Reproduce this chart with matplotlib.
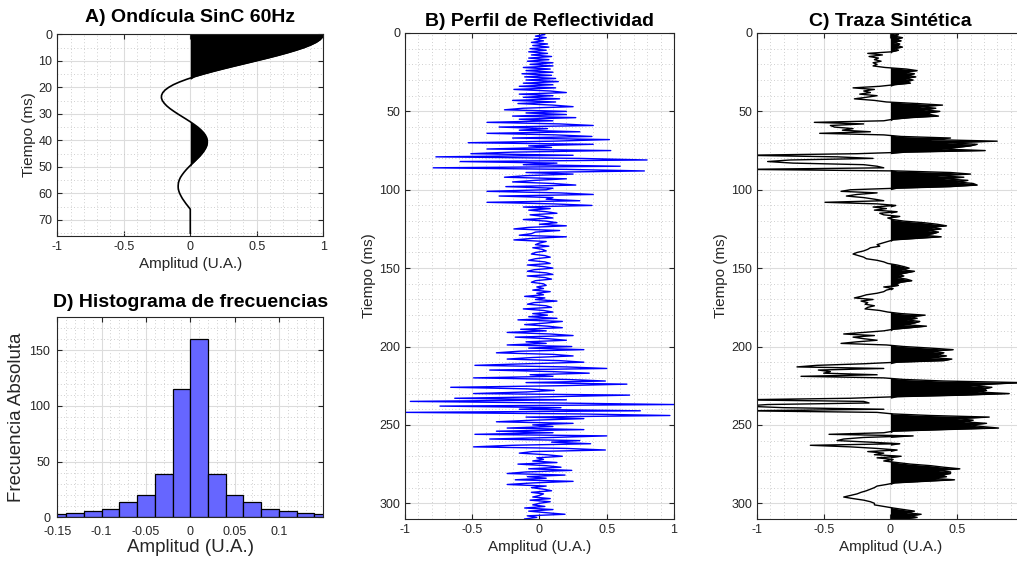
import numpy as np
import matplotlib
matplotlib.use('Agg')
import matplotlib.pyplot as plt
from matplotlib.ticker import MultipleLocator

plt.rcParams['font.family'] = ['Liberation Sans', 'DejaVu Sans']

# ondícula sinc (1 ms)
wavelet = [
    1.000, 0.994, 0.976, 0.947, 0.906, 0.856, 0.796, 0.729, 0.656, 0.578,
    0.496, 0.414, 0.331, 0.250, 0.172, 0.099, 0.031, -0.029, -0.082, -0.127,
    -0.162, -0.189, -0.207, -0.216, -0.217, -0.210, -0.196, -0.177, -0.153, -0.125,
    -0.095, -0.063, -0.031, 0.000, 0.029, 0.056, 0.079, 0.098, 0.113, 0.123,
    0.128, 0.128, 0.124, 0.115, 0.103, 0.088, 0.071, 0.051, 0.031, 0.010,
    -0.010, -0.029, -0.046, -0.061, -0.074, -0.083, -0.089, -0.091, -0.091, -0.087,
    -0.080, -0.070, -0.059, -0.045, -0.031, -0.015, 0.000, 0.000, 0.000, 0.000,
    0.000, 0.000, 0.000, 0.000, 0.000, 0.000,
]

# serie de reflectividad (1 ms)
reflect = [
    0.00, 0.04, -0.03, 0.05, -0.04, 0.03, -0.06, 0.06, -0.05, 0.07,
    -0.07, 0.05, -0.08, 0.06, -0.06, 0.09, -0.08, 0.07, -0.09, 0.10,
    -0.07, 0.10, -0.12, 0.08, -0.10, 0.10, -0.13, 0.09, -0.11, 0.12,
    -0.10, 0.14, -0.12, 0.10, -0.15, 0.12, -0.19, 0.08, 0.20, -0.15,
    0.10, -0.12, 0.15, -0.20, 0.12, -0.16, 0.10, 0.25, -0.12, -0.26,
    0.20, -0.10, 0.20, -0.20, 0.27, -0.15, 0.10, -0.39, 0.15, 0.40,
    -0.30, 0.06, -0.15, 0.30, -0.39, 0.12, 0.39, -0.20, 0.52, 0.10,
    -0.53, 0.40, -0.08, 0.09, -0.39, 0.53, -0.20, -0.51, 0.25, -0.77,
    0.30, 0.80, -0.59, 0.13, -0.12, 0.60, -0.79, 0.20, 0.78, -0.10,
    0.25, -0.10, -0.26, 0.20, -0.03, -0.20, 0.10, 0.27, -0.25, 0.10,
    0.05, -0.39, 0.15, 0.40, -0.30, 0.10, 0.05, 0.30, -0.39, 0.10,
    0.39, -0.12, 0.08, -0.08, 0.05, 0.13, -0.07, 0.03, 0.10, -0.12,
    0.05, 0.13, 0.00, 0.20, -0.08, -0.19, 0.15, -0.03, -0.06, -0.15,
    0.20, -0.05, -0.19, 0.05, 0.00, -0.03, 0.07, -0.05, 0.02, 0.05,
    -0.03, -0.06, 0.04, 0.08, -0.03, -0.08, 0.04, 0.08, -0.09, 0.03,
    0.10, -0.04, -0.09, 0.05, 0.10, -0.09, 0.04, 0.09, -0.03, -0.06,
    0.03, 0.05, -0.02, 0.03, -0.05, 0.08, -0.02, 0.03, -0.11, 0.04,
    -0.03, 0.13, -0.04, -0.09, 0.05, 0.09, -0.12, 0.03, 0.10, -0.05,
    0.06, -0.08, 0.13, -0.16, 0.17, 0.05, -0.11, 0.06, 0.17, -0.14,
    0.05, -0.24, 0.08, 0.25, -0.18, 0.06, 0.20, -0.10, 0.05, -0.24,
    0.24, -0.08, 0.33, -0.15, -0.32, 0.10, 0.25, -0.05, -0.24, 0.15,
    0.33, -0.10, -0.48, 0.20, 0.50, -0.37, 0.10, 0.37, -0.07, 0.10,
    -0.49, 0.20, 0.49, -0.10, 0.65, 0.15, -0.66, -0.09, 0.11, -0.10,
    -0.49, 0.67, 0.10, -0.63, 0.20, -0.96, 0.10, 1.00, -0.74, 0.16,
    -0.15, 0.75, -0.99, 0.30, 0.97, -0.10, 0.33, -0.05, -0.32, 0.25,
    -0.05, 0.10, -0.24, 0.33, -0.32, 0.10, -0.48, 0.50, 0.10, -0.37,
    0.30, 0.09, 0.38, -0.20, -0.49, 0.20, 0.49, -0.05, -0.15, 0.05,
    0.17, -0.02, 0.03, -0.05, 0.13, -0.16, 0.05, 0.16, -0.08, 0.24,
    -0.10, -0.24, 0.19, -0.09, 0.05, -0.18, 0.25, -0.05, -0.24, 0.05,
    -0.06, 0.03, 0.09, -0.06, 0.03, 0.00, -0.05, 0.08, -0.07, 0.08,
    0.00, -0.05, 0.04, -0.11, 0.10, -0.08, 0.05, 0.19, -0.09, -0.02,
    -0.11,
]

# traza sintética (1 ms)
trace = [
    0.00, 0.06, 0.03, 0.09, 0.04, 0.08, 0.02, 0.07, 0.05, 0.09,
    0.03, 0.06, 0.01, -0.17, -0.06, -0.16, -0.09, -0.12, -0.07, -0.13,
    -0.10, -0.13, -0.04, 0.12, 0.20, 0.10, 0.18, 0.13, 0.19, 0.11,
    0.17, 0.12, 0.15, 0.03, -0.08, -0.28, -0.12, -0.20, -0.15, -0.23,
    -0.10, -0.18, -0.27, -0.12, -0.03, 0.20, 0.39, 0.22, 0.34, 0.25,
    0.37, 0.28, 0.30, 0.36, 0.15, 0.02, -0.05, -0.57, -0.20, -0.45,
    -0.42, -0.28, -0.36, -0.15, -0.53, -0.05, 0.08, 0.45, 0.30, 0.80,
    0.42, 0.65, 0.60, 0.50, 0.38, 0.71, 0.12, -0.25, -1.10, -0.40,
    -0.13, -0.75, -0.92, -0.73, -0.20, -0.10, -0.05, -1.10, 0.05, 0.45,
    0.60, 0.35, 0.55, 0.40, 0.58, 0.50, 0.62, 0.65, 0.45, 0.05,
    -0.30, -0.37, -0.10, -0.25, -0.33, -0.20, -0.12, -0.05, -0.49, -0.10,
    0.04, -0.13, -0.03, -0.12, 0.05, -0.08, -0.05, 0.07, -0.02, 0.02,
    0.10, 0.25, 0.35, 0.42, 0.30, 0.38, 0.28, 0.36, 0.32, 0.25,
    0.38, 0.20, 0.02, -0.02, -0.06, -0.10, -0.08, -0.15, -0.17, -0.20,
    -0.25, -0.28, -0.24, -0.20, -0.18, -0.10, -0.05, -0.02, 0.05, 0.10,
    0.14, 0.08, 0.18, 0.12, 0.06, 0.10, 0.05, 0.12, 0.16, 0.08,
    0.04, 0.06, -0.05, 0.02, -0.03, -0.05, -0.10, -0.18, -0.22, -0.27,
    -0.13, -0.22, -0.17, -0.19, -0.12, -0.17, -0.19, -0.08, -0.02, 0.08,
    0.26, 0.15, 0.20, 0.12, 0.22, 0.18, 0.10, 0.27, 0.15, 0.02,
    -0.05, -0.20, -0.35, -0.12, -0.28, -0.20, -0.10, -0.25, -0.37, -0.03,
    0.10, 0.30, 0.47, 0.30, 0.40, 0.35, 0.42, 0.30, 0.46, 0.40,
    0.05, -0.20, -0.55, -0.70, -0.05, -0.54, -0.45, -0.50, -0.10, -0.67,
    -0.05, 0.10, 0.40, 0.98, 0.75, 0.60, 0.76, 0.70, 0.72, 0.65,
    0.89, 0.55, 0.05, -0.30, -1.15, -0.20, -0.16, -0.92, -1.10, -0.80,
    -0.05, -1.10, -0.10, 0.02, 0.30, 0.74, 0.50, 0.62, 0.55, 0.72,
    0.60, 0.68, 0.81, 0.40, 0.02, -0.05, -0.46, 0.17, -0.20, -0.35,
    -0.40, -0.15, 0.07, -0.60, -0.30, -0.10, 0.05, -0.17, -0.05, -0.12,
    0.08, -0.10, 0.02, -0.05, 0.05, 0.15, 0.30, 0.40, 0.52, 0.35,
    0.45, 0.45, 0.38, 0.42, 0.30, 0.48, 0.25, 0.03, -0.03, -0.10,
    -0.12, -0.15, -0.18, -0.22, -0.25, -0.30, -0.35, -0.28, -0.20, -0.15,
    -0.12, -0.12, -0.05, 0.02, 0.10, 0.18, 0.12, 0.23, 0.15, 0.20,
    0.10,
]

# histograma de amplitudes
bin_edges = [-0.16, -0.14, -0.12, -0.10, -0.08, -0.06, -0.04, -0.02, 0.0,
             0.02, 0.04, 0.06, 0.08, 0.10, 0.12, 0.14, 0.16]
counts = [3, 4, 6, 7, 14, 20, 39, 115, 160, 39, 20, 14, 7, 6, 4, 3]

t_w = np.arange(len(wavelet))
t_r = np.arange(len(reflect))
t_s = np.arange(len(trace))
wavelet = np.array(wavelet)
trace = np.array(trace)

axcol = '#262626'


def style(ax, xminor, yminor):
    ax.set_axisbelow(True)
    ax.xaxis.set_minor_locator(MultipleLocator(xminor))
    ax.yaxis.set_minor_locator(MultipleLocator(yminor))
    ax.grid(True, which='major', color='#dcdcdc', lw=0.8)
    ax.grid(True, which='minor', color='#c0c0c0', lw=0.6, ls=(0, (1, 3)))
    ax.tick_params(which='both', direction='in', top=True, right=True,
                   colors=axcol, labelsize=9, labelcolor=axcol)
    ax.tick_params(which='major', length=3.5)
    ax.tick_params(which='minor', length=0)
    for s in ax.spines.values():
        s.set_color(axcol)
        s.set_linewidth(0.8)


fig = plt.figure(figsize=(10.17, 5.63), dpi=100)

# A) ondícula
axA = fig.add_axes([0.0563, 0.5813, 0.2616, 0.3577])
axA.fill_betweenx(t_w, 0, np.clip(wavelet, 0, None), color='k', lw=0)
axA.plot(wavelet, t_w, color='k', lw=1.2)
axA.set_xlim(-1, 1)
axA.set_ylim(76, 0)
axA.set_xticks([-1, -0.5, 0, 0.5, 1])
axA.set_xticklabels(['-1', '-0.5', '0', '0.5', '1'])
axA.set_yticks(np.arange(0, 71, 10))
style(axA, 0.1, 5)
axA.set_xlabel('Amplitud (U.A.)', fontsize=11, color=axcol, labelpad=3)
axA.set_ylabel('Tiempo (ms)', fontsize=11, color=axcol, labelpad=2)
axA.set_title('A) Ondícula SinC 60Hz', fontsize=14, fontweight='bold', pad=9)

# D) histograma
axD = fig.add_axes([0.0563, 0.0812, 0.2616, 0.3563])
axD.bar(bin_edges[:-1], counts, width=np.diff(bin_edges), align='edge',
        color='#6666ff', edgecolor='k', lw=0.9)
axD.set_xlim(-0.15, 0.15)
axD.set_ylim(0, 180)
axD.set_xticks([-0.15, -0.1, -0.05, 0, 0.05, 0.1])
axD.set_xticklabels(['-0.15', '-0.1', '-0.05', '0', '0.05', '0.1'])
axD.set_yticks([0, 50, 100, 150])
style(axD, 0.01, 10)
axD.tick_params(axis='x', pad=6)
axD.tick_params(axis='y', pad=5)
axD.set_xlabel('Amplitud (U.A.)', fontsize=13.5, color=axcol, labelpad=1)
axD.set_ylabel('Frecuencia Absoluta', fontsize=13.5, color=axcol, labelpad=3)
axD.set_title('D) Histograma de frecuencias', fontsize=14, fontweight='bold', pad=7)

# B) reflectividad
axB = fig.add_axes([0.3982, 0.0782, 0.2645, 0.8632])
axB.plot(reflect, t_r, color='#0000ff', lw=1.0)
axB.set_xlim(-1, 1)
axB.set_ylim(310, 0)
axB.set_xticks([-1, -0.5, 0, 0.5, 1])
axB.set_xticklabels(['-1', '-0.5', '0', '0.5', '1'])
axB.set_yticks(np.arange(0, 301, 50))
style(axB, 0.1, 10)
axB.set_xlabel('Amplitud (U.A.)', fontsize=11, color=axcol, labelpad=3)
axB.set_ylabel('Tiempo (ms)', fontsize=11, color=axcol, labelpad=2)
axB.set_title('B) Perfil de Reflectividad', fontsize=14, fontweight='bold', pad=5)

# C) traza sintética
axC = fig.add_axes([0.7443, 0.0782, 0.2625, 0.8632])
axC.fill_betweenx(t_s, 0, np.clip(trace, 0, None), color='k', lw=0)
axC.plot(trace, t_s, color='k', lw=1.0)
axC.set_xlim(-1, 1)
axC.set_ylim(310, 0)
axC.set_xticks([-1, -0.5, 0, 0.5])
axC.set_xticklabels(['-1', '-0.5', '0', '0.5'])
axC.set_yticks(np.arange(0, 301, 50))
style(axC, 0.1, 10)
axC.set_xlabel('Amplitud (U.A.)', fontsize=11, color=axcol, labelpad=3)
axC.set_ylabel('Tiempo (ms)', fontsize=11, color=axcol, labelpad=2)
axC.set_title('C) Traza Sintética', fontsize=14, fontweight='bold', pad=5)

fig.savefig('out.png', dpi=100)
